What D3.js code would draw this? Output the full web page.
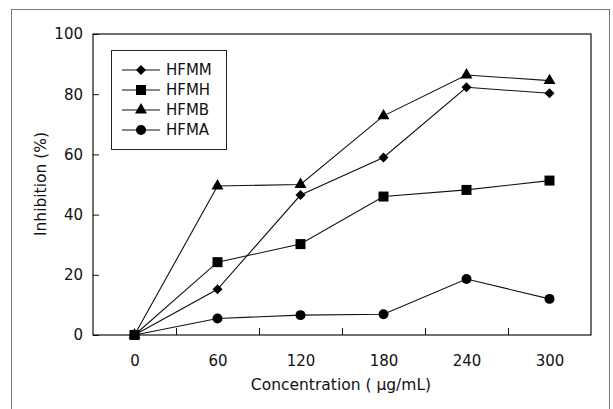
<!DOCTYPE html>
<html lang="en">
<head>
<meta charset="utf-8">
<style>
  body { margin: 0; background: #fff; }
  svg text { font-family: "DejaVu Sans", sans-serif; fill: #111; }
</style>
</head>
<body>
<div id="chart"></div>
<script src="https://d3js.org/d3.v7.min.js"></script>
<script>
// data
var concentrations = [0, 60, 120, 180, 240, 300];
var hfmm = [0, 15.2, 46.5, 59, 82.3, 80.3];
var hfmh = [0, 24.2, 30.2, 46, 48.2, 51.3];
var hfmb = [0, 49.5, 50, 72.8, 86.4, 84.5];
var hfma = [0, 5.5, 6.6, 6.9, 18.6, 12];
var seriesNames = ["HFMM", "HFMH", "HFMB", "HFMA"];
var yTicks = [0, 20, 40, 60, 80, 100];
var xMinorTicks = [30, 90, 150, 210, 270];

var series = [
  { name: "HFMM", values: hfmm, shape: d3.symbolSquare, size: 50, rotate: 45 },
  { name: "HFMH", values: hfmh, shape: d3.symbolSquare, size: 100, rotate: 0 },
  { name: "HFMB", values: hfmb, shape: d3.symbolTriangle, size: 62, rotate: 0 },
  { name: "HFMA", values: hfma, shape: d3.symbolCircle, size: 78, rotate: 0 }
];

var width = 613, height = 409;
var margin = { top: 34, left: 93 };
var w = 591 - margin.left, h = 335 - margin.top;

var svg = d3.select("#chart").append("svg")
  .attr("width", width)
  .attr("height", height);

// outer frame of the scanned figure
svg.append("rect")
  .attr("x", 11.5).attr("y", 9.5)
  .attr("width", 598).attr("height", 420)
  .attr("fill", "none")
  .attr("stroke", "#777")
  .attr("stroke-width", 1);

var g = svg.append("g")
  .attr("transform", "translate(" + margin.left + "," + margin.top + ")");

var x = d3.scaleLinear().domain([-30, 330]).range([0, w]);
var y = d3.scaleLinear().domain([0, 100]).range([h, 0]);

// plot box
g.append("rect")
  .attr("width", w).attr("height", h)
  .attr("fill", "none")
  .attr("stroke", "#111")
  .attr("stroke-width", 1.2);

// y axis, ticks pointing inward
var yAxis = g.append("g")
  .call(d3.axisLeft(y).tickValues(yTicks).tickSizeInner(-6).tickSizeOuter(0).tickPadding(10));
yAxis.select(".domain").remove();
yAxis.selectAll("line").attr("stroke", "#111");
yAxis.selectAll("text")
  .attr("font-size", "15px")
  .attr("font-family", "'Liberation Sans', sans-serif")
  .attr("fill", "#111");

// x axis: labels only at the data concentrations, inward ticks in between
var xAxis = g.append("g")
  .attr("transform", "translate(0," + h + ")")
  .call(d3.axisBottom(x).tickValues(concentrations).tickSize(0).tickPadding(20));
xAxis.select(".domain").remove();
xAxis.selectAll("text")
  .attr("font-size", "15px")
  .attr("font-family", "'Liberation Sans', sans-serif")
  .attr("fill", "#111");

g.append("g")
  .attr("transform", "translate(0," + h + ")")
  .call(d3.axisBottom(x).tickValues(xMinorTicks).tickSizeInner(-7).tickSizeOuter(0).tickFormat(""))
  .call(function (a) { a.select(".domain").remove(); a.selectAll("line").attr("stroke", "#111"); });

// axis titles
svg.append("text")
  .attr("x", 341).attr("y", 390)
  .attr("text-anchor", "middle")
  .attr("font-size", "15.5px")
  .text("Concentration ( \u03BCg/mL)");

svg.append("text")
  .attr("transform", "translate(46,184) rotate(-90)")
  .attr("text-anchor", "middle")
  .attr("font-size", "15.5px")
  .text("Inhibition (%)");

var line = d3.line()
  .x(function (d, i) { return x(concentrations[i]); })
  .y(function (d) { return y(d); });

series.forEach(function (s) {
  g.append("path")
    .datum(s.values)
    .attr("d", line)
    .attr("fill", "none")
    .attr("stroke", "#111")
    .attr("stroke-width", 1.1);

  g.selectAll(null)
    .data(s.values)
    .enter()
    .append("path")
    .attr("d", d3.symbol().type(s.shape).size(s.size))
    .attr("transform", function (d, i) {
      return "translate(" + x(concentrations[i]) + "," + y(d) + ") rotate(" + s.rotate + ")";
    })
    .attr("fill", "#000");
});

// legend
var legend = svg.append("g");
legend.append("rect")
  .attr("x", 111.5).attr("y", 50.5)
  .attr("width", 115).attr("height", 99)
  .attr("fill", "#fff")
  .attr("stroke", "#222");

var item = legend.selectAll(".item")
  .data(series)
  .enter()
  .append("g")
  .attr("transform", function (d, i) { return "translate(0," + (70 + i * 20) + ")"; });

item.append("line")
  .attr("x1", 122).attr("x2", 160)
  .attr("stroke", "#111").attr("stroke-width", 1.1);
item.append("path")
  .attr("d", function (d) { return d3.symbol().type(d.shape).size(d.size)(); })
  .attr("transform", function (d) { return "translate(141,0) rotate(" + d.rotate + ")"; })
  .attr("fill", "#000");
item.append("text")
  .attr("x", 166).attr("dy", "0.36em")
  .attr("font-size", "15px")
  .text(function (d, i) { return seriesNames[i]; });
</script>
</body>
</html>
